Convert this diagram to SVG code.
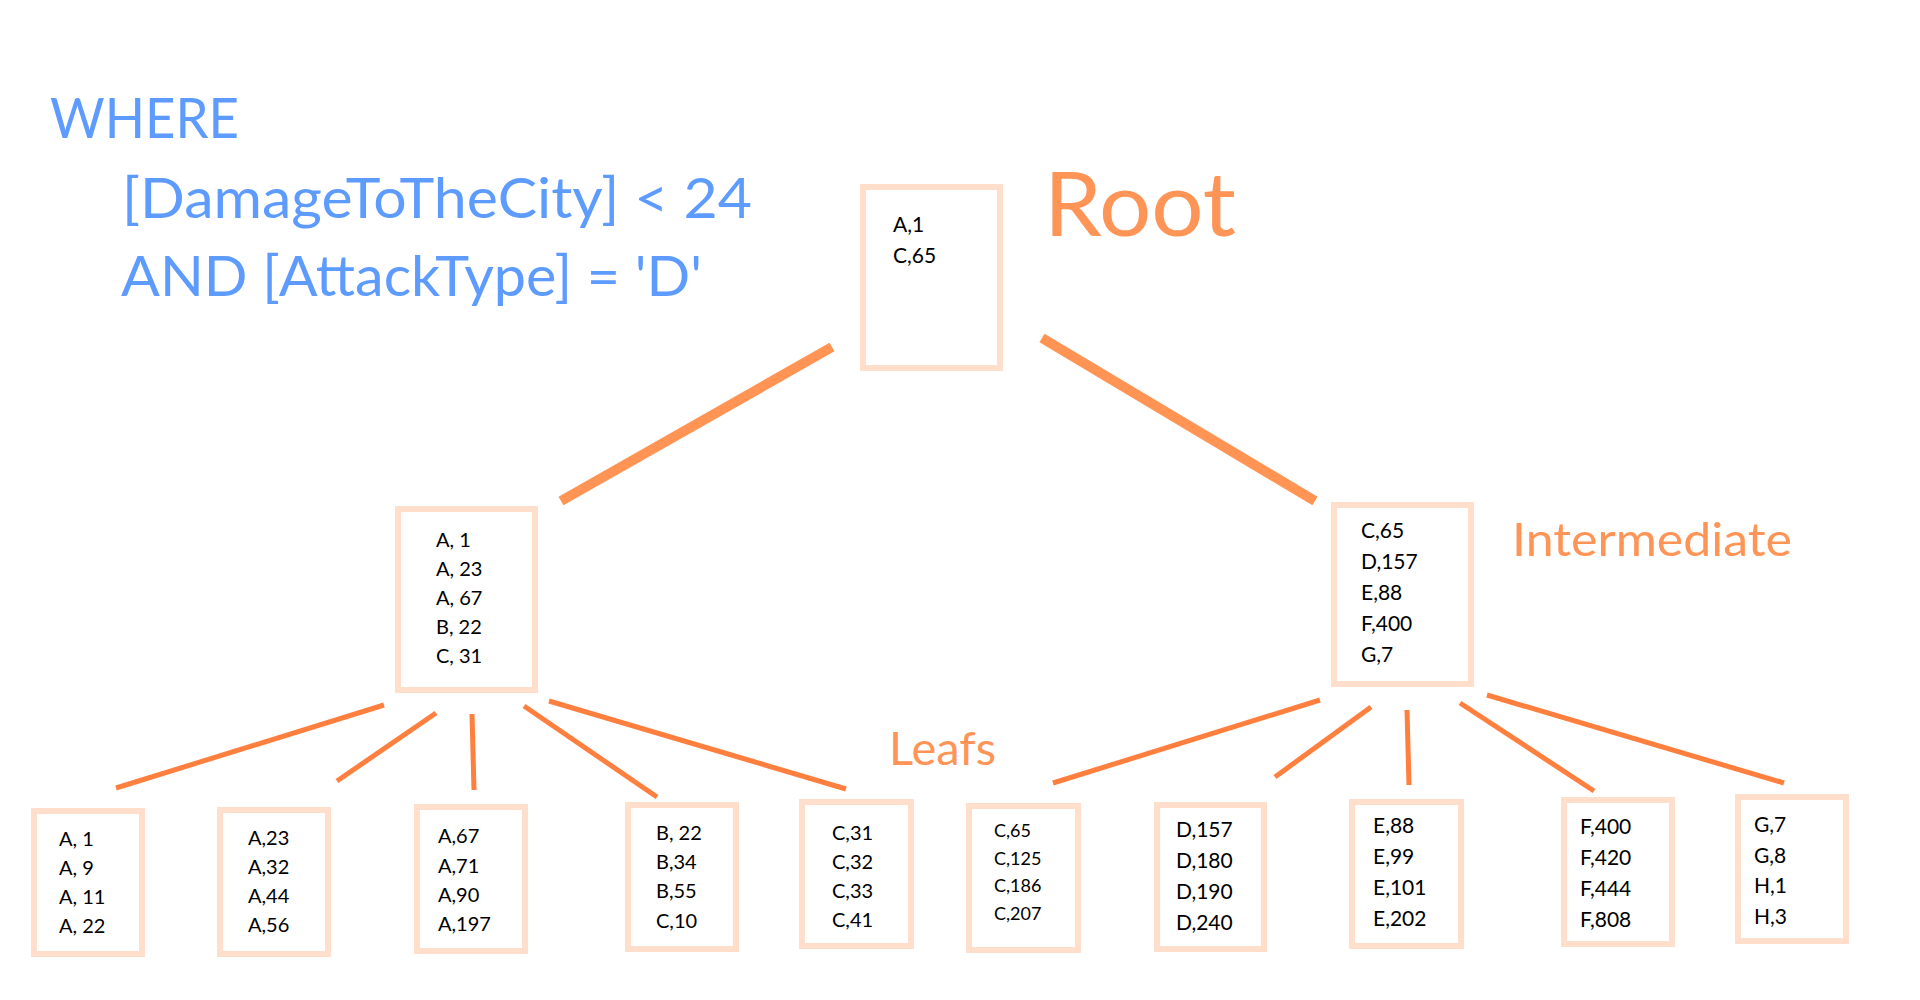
<svg xmlns="http://www.w3.org/2000/svg" width="1920" height="1000" viewBox="0 0 1920 1000">
<style>
.box{fill:#ffffff;stroke:#FFDFCC;stroke-width:6}
.t{font-family:Lato,"Open Sans","Liberation Sans",sans-serif;fill:#000000}
.q{font-family:Lato,"Open Sans","Liberation Sans",sans-serif;fill:#5E9BFF;font-size:56px}
.lbl{font-family:Lato,"Open Sans","Liberation Sans",sans-serif;fill:#FF9457}
.main{stroke:#FF9455;stroke-width:10;fill:none}
.leaf{stroke:#FF7F3F;stroke-width:5;fill:none}
</style>
<rect width="1920" height="1000" fill="#ffffff"/>
<g id="query">
<text class="q" x="50" y="138" textLength="189" lengthAdjust="spacingAndGlyphs">WHERE</text>
<text class="q" x="122" y="218" textLength="630" lengthAdjust="spacingAndGlyphs">[DamageToTheCity] &lt; 24</text>
<text class="q" x="121" y="296" textLength="581" lengthAdjust="spacingAndGlyphs">AND [AttackType] = 'D'</text>
</g>
<g id="labels">
<text class="lbl" x="1044" y="236" font-size="89" textLength="192" lengthAdjust="spacingAndGlyphs">Root</text>
<text class="lbl" x="1512" y="556" font-size="47" textLength="280" lengthAdjust="spacingAndGlyphs">Intermediate</text>
<text class="lbl" x="889" y="765" font-size="46" textLength="107" lengthAdjust="spacingAndGlyphs" fill="#FF8F52">Leafs</text>
</g>
<g id="connectors">
<line class="main" x1="832" y1="347" x2="561" y2="501"/>
<line class="main" x1="1042" y1="338" x2="1315" y2="501"/>
<line class="leaf" x1="384" y1="705" x2="116" y2="788"/>
<line class="leaf" x1="436" y1="713" x2="337" y2="781"/>
<line class="leaf" x1="472" y1="714" x2="474" y2="790"/>
<line class="leaf" x1="524" y1="706" x2="657" y2="797"/>
<line class="leaf" x1="549" y1="701" x2="846" y2="789"/>
<line class="leaf" x1="1320" y1="700" x2="1053" y2="783"/>
<line class="leaf" x1="1371" y1="707" x2="1275" y2="777"/>
<line class="leaf" x1="1407" y1="710" x2="1409" y2="785"/>
<line class="leaf" x1="1460" y1="703" x2="1594" y2="791"/>
<line class="leaf" x1="1487" y1="695" x2="1784" y2="783"/>
</g>
<g id="root">
<rect class="box" x="863" y="187" width="137" height="181"/>
<text class="t" font-size="21"><tspan x="893" y="232">A,1</tspan><tspan x="893" y="263">C,65</tspan></text>
</g>
<g id="intermediate-left">
<rect class="box" x="398" y="509" width="137" height="181"/>
<text class="t" font-size="20"><tspan x="436" y="547">A, 1</tspan><tspan x="436" y="576">A, 23</tspan><tspan x="436" y="605">A, 67</tspan><tspan x="436" y="634">B, 22</tspan><tspan x="436" y="663">C, 31</tspan></text>
</g>
<g id="intermediate-right">
<rect class="box" x="1334" y="505" width="137" height="179"/>
<text class="t" font-size="21"><tspan x="1361" y="538">C,65</tspan><tspan x="1361" y="569">D,157</tspan><tspan x="1361" y="600">E,88</tspan><tspan x="1361" y="631">F,400</tspan><tspan x="1361" y="662">G,7</tspan></text>
</g>
<g id="leaf1">
<rect class="box" x="34" y="811" width="108" height="143"/>
<text class="t" font-size="20"><tspan x="59" y="846">A, 1</tspan><tspan x="59" y="875">A, 9</tspan><tspan x="59" y="904">A, 11</tspan><tspan x="59" y="933">A, 22</tspan></text>
</g>
<g id="leaf2">
<rect class="box" x="220" y="810" width="108" height="144"/>
<text class="t" font-size="20"><tspan x="248" y="845">A,23</tspan><tspan x="248" y="874">A,32</tspan><tspan x="248" y="903">A,44</tspan><tspan x="248" y="932">A,56</tspan></text>
</g>
<g id="leaf3">
<rect class="box" x="417" y="807" width="108" height="144"/>
<text class="t" font-size="20"><tspan x="438" y="843">A,67</tspan><tspan x="438" y="873">A,71</tspan><tspan x="438" y="902">A,90</tspan><tspan x="438" y="931">A,197</tspan></text>
</g>
<g id="leaf4">
<rect class="box" x="628" y="805" width="108" height="144"/>
<text class="t" font-size="20"><tspan x="656" y="840">B, 22</tspan><tspan x="656" y="869">B,34</tspan><tspan x="656" y="898">B,55</tspan><tspan x="656" y="928">C,10</tspan></text>
</g>
<g id="leaf5">
<rect class="box" x="802" y="802" width="109" height="144"/>
<text class="t" font-size="20"><tspan x="832" y="840">C,31</tspan><tspan x="832" y="869">C,32</tspan><tspan x="832" y="898">C,33</tspan><tspan x="832" y="927">C,41</tspan></text>
</g>
<g id="leaf6">
<rect class="box" x="969" y="806" width="109" height="144"/>
<text class="t" font-size="18"><tspan x="994" y="837">C,65</tspan><tspan x="994" y="865">C,125</tspan><tspan x="994" y="892">C,186</tspan><tspan x="994" y="920">C,207</tspan></text>
</g>
<g id="leaf7">
<rect class="box" x="1157" y="805" width="107" height="144"/>
<text class="t" font-size="21"><tspan x="1176" y="837">D,157</tspan><tspan x="1176" y="868">D,180</tspan><tspan x="1176" y="899">D,190</tspan><tspan x="1176" y="930">D,240</tspan></text>
</g>
<g id="leaf8">
<rect class="box" x="1352" y="802" width="109" height="144"/>
<text class="t" font-size="21"><tspan x="1373" y="833">E,88</tspan><tspan x="1373" y="864">E,99</tspan><tspan x="1373" y="895">E,101</tspan><tspan x="1373" y="926">E,202</tspan></text>
</g>
<g id="leaf9">
<rect class="box" x="1564" y="800" width="108" height="144"/>
<text class="t" font-size="21"><tspan x="1580" y="834">F,400</tspan><tspan x="1580" y="865">F,420</tspan><tspan x="1580" y="896">F,444</tspan><tspan x="1580" y="927">F,808</tspan></text>
</g>
<g id="leaf10">
<rect class="box" x="1738" y="797" width="108" height="144"/>
<text class="t" font-size="21"><tspan x="1754" y="832">G,7</tspan><tspan x="1754" y="863">G,8</tspan><tspan x="1754" y="893">H,1</tspan><tspan x="1754" y="924">H,3</tspan></text>
</g>
</svg>
